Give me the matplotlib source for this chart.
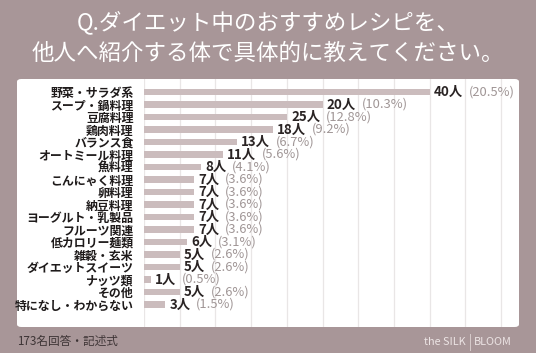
import matplotlib
matplotlib.use("Agg")
import matplotlib.pyplot as plt
from matplotlib.patches import FancyBboxPatch
from matplotlib.lines import Line2D

plt.rcParams['font.family'] = ['Noto Sans CJK JP', 'DejaVu Sans']

categories = ["野菜・サラダ系", "スープ・鍋料理", "豆腐料理", "鶏肉料理", "バランス食",
              "オートミール料理", "魚料理", "こんにゃく料理", "卵料理", "納豆料理",
              "ヨーグルト・乳製品", "フルーツ関連", "低カロリー麺類", "雑穀・玄米",
              "ダイエットスイーツ", "ナッツ類", "その他", "特になし・わからない"]
# bar lengths as drawn in the picture
bar_values = [40, 25, 20, 18, 13, 11, 8, 7, 7, 7, 7, 7, 6, 5, 5, 1, 5, 3]
# value labels as printed
label_counts = [40, 20, 25, 18, 13, 11, 8, 7, 7, 7, 7, 7, 6, 5, 5, 1, 5, 3]
label_pcts = ["20.5", "10.3", "12.8", "9.2", "6.7", "5.6", "4.1", "3.6", "3.6", "3.6",
              "3.6", "3.6", "3.1", "2.6", "2.6", "0.5", "2.6", "1.5"]

title_lines = ["Q.ダイエット中のおすすめレシピを、", "他人へ紹介する体で具体的に教えてください。"]
footer_left = "173名回答・記述式"

W, H = 536, 353
BG = "#a89698"
BAR = "#cbbcbd"

fig = plt.figure(figsize=(W / 100, H / 100), dpi=100, facecolor=BG)

def fx(px):
    return px / W

def fy(py):
    return 1 - py / H

# white panel
panel = FancyBboxPatch((fx(17), fy(327)), fx(519) - fx(17), fy(79) - fy(327),
                       boxstyle="round,pad=0,rounding_size=0.008",
                       transform=fig.transFigure, facecolor="white", edgecolor="none", zorder=-10)
fig.patches.append(panel)

# title
fig.text(0.5, fy(22), title_lines[0], ha="center", va="center", color="white", fontsize=16.2)
fig.text(0.5, fy(53), title_lines[1], ha="center", va="center", color="white", fontsize=16.2)

# axes
ax = fig.add_axes([fx(144), fy(327), fx(519) - fx(144), fy(79) - fy(327)])
ax.set_facecolor("none")
ax.set_zorder(1)
n = len(categories)
ypos = list(range(n))
ax.barh(ypos, bar_values, height=0.5, color=BAR, zorder=2)
ax.set_xlim(0, 52.5)
ax.set_ylim(18.8, -1.04)
ax.set_xticks(range(0, 55, 5))
ax.grid(axis="x", color="#e9e6e6", linewidth=0.9, zorder=1)
ax.set_axisbelow(True)
ax.tick_params(length=0, labelbottom=False)
for s in ax.spines.values():
    s.set_visible(False)
ax.set_yticks(ypos)
ax.set_yticklabels(categories, fontsize=8.6, fontweight="bold", color="#1e1a1a")
ax.tick_params(axis="y", pad=7.5)

fig.canvas.draw()
renderer = fig.canvas.get_renderer()
for i, (v, c, p) in enumerate(zip(bar_values, label_counts, label_pcts)):
    t1 = ax.annotate(f"{c}人", (v, i), xytext=(3, 0), textcoords="offset points",
                     ha="left", va="center", fontsize=9.6, fontweight="bold", color="#2a2424")
    bb = t1.get_window_extent(renderer)
    wpts = bb.width * 72 / fig.dpi
    ax.annotate(f"({p}%)", (v, i), xytext=(3 + wpts + 4, 0), textcoords="offset points",
                ha="left", va="center", fontsize=9.3, color="#a09696")

# footer
fig.text(fx(17), fy(341), footer_left, ha="left", va="center", color="#3d3435", fontsize=8.4)
fig.text(fx(466), fy(342), "the SILK", ha="right", va="center", color="#ece4e4", fontsize=7.8)
fig.add_artist(Line2D([fx(470), fx(470)], [fy(334), fy(350)], color="#d8cccc", linewidth=0.7,
                      transform=fig.transFigure))
fig.text(fx(474), fy(342), "BLOOM", ha="left", va="center", color="#ece4e4", fontsize=7.8)

fig.savefig("out.png", dpi=100, facecolor=BG)
